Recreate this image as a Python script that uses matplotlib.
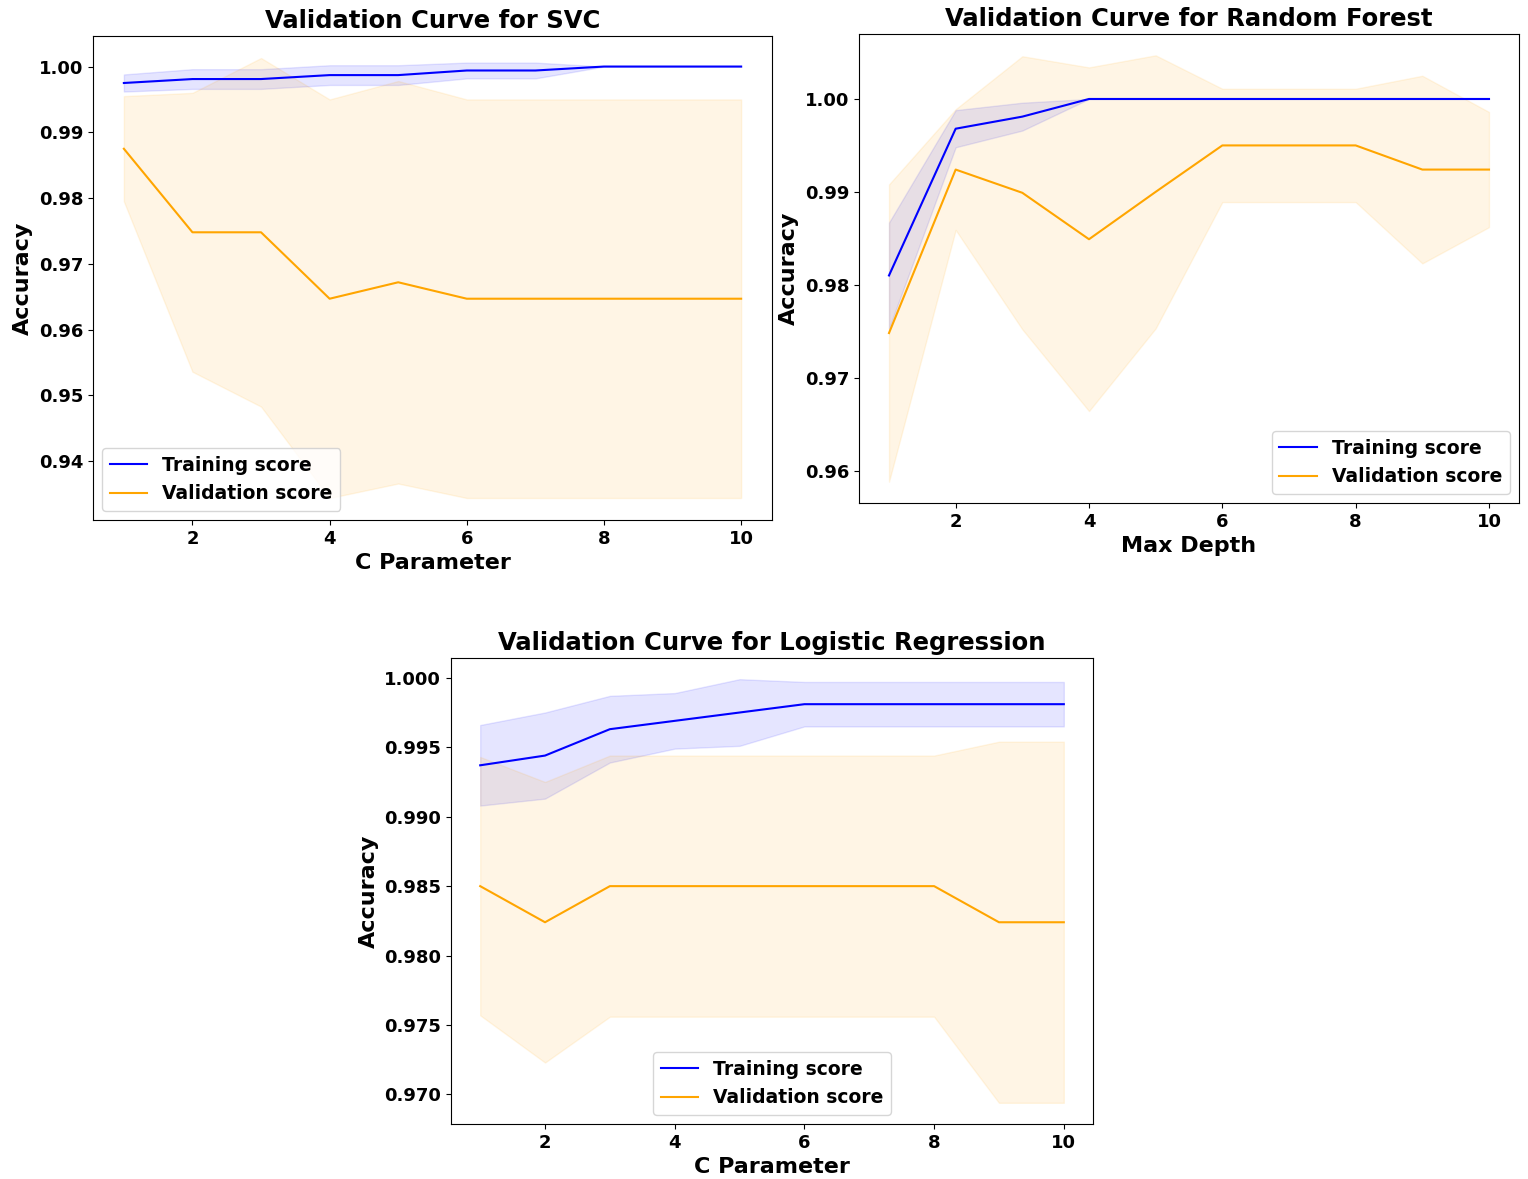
import matplotlib
matplotlib.use("Agg")
import matplotlib.pyplot as plt
import numpy as np

# parameter grid shared by all three curves
param_range = np.arange(1, 11)

# SVC: mean accuracy and std across folds
svc_train_mean = [0.9975, 0.9981, 0.9981, 0.9987, 0.9987, 0.9994, 0.9994, 1.0, 1.0, 1.0]
svc_train_std = [0.0013, 0.0015, 0.0015, 0.0015, 0.0015, 0.0012, 0.0012, 0.0, 0.0, 0.0]
svc_val_mean = [0.9875, 0.9748, 0.9748, 0.9647, 0.9672, 0.9647, 0.9647, 0.9647, 0.9647, 0.9647]
svc_val_std = [0.0080, 0.0212, 0.0265, 0.0303, 0.0306, 0.0303, 0.0303, 0.0303, 0.0303, 0.0303]

# Random forest (max depth)
rf_train_mean = [0.9810, 0.9968, 0.9981, 1.0, 1.0, 1.0, 1.0, 1.0, 1.0, 1.0]
rf_train_std = [0.0057, 0.0020, 0.0015, 0.0, 0.0, 0.0, 0.0, 0.0, 0.0, 0.0]
rf_val_mean = [0.9748, 0.9924, 0.9899, 0.9849, 0.9900, 0.9950, 0.9950, 0.9950, 0.9924, 0.9924]
rf_val_std = [0.0160, 0.0065, 0.0147, 0.0185, 0.0147, 0.0061, 0.0061, 0.0061, 0.0101, 0.0062]

# Logistic regression
lr_train_mean = [0.9937, 0.9944, 0.9963, 0.9969, 0.9975, 0.9981, 0.9981, 0.9981, 0.9981, 0.9981]
lr_train_std = [0.0029, 0.0031, 0.0024, 0.0020, 0.0024, 0.0016, 0.0016, 0.0016, 0.0016, 0.0016]
lr_val_mean = [0.9850, 0.9824, 0.9850, 0.9850, 0.9850, 0.9850, 0.9850, 0.9850, 0.9824, 0.9824]
lr_val_std = [0.0093, 0.0101, 0.0094, 0.0094, 0.0094, 0.0094, 0.0094, 0.0094, 0.0130, 0.0130]

plt.rcParams["font.family"] = ["DejaVu Sans"]
plt.rcParams["font.weight"] = "bold"
plt.rcParams["axes.labelweight"] = "bold"
plt.rcParams["axes.titleweight"] = "bold"

fig = plt.figure(figsize=(15.28, 11.79), dpi=100)
W, H = 1528, 1179


def px_axes(left, right, top, bottom):
    return fig.add_axes([left / W, 1 - bottom / H, (right - left) / W, (bottom - top) / H])


def curve(ax, title, xlabel, tm, ts, vm, vs, loc):
    tm, ts, vm, vs = map(np.asarray, (tm, ts, vm, vs))
    ax.plot(param_range, tm, color="blue", lw=1.5, label="Training score")
    ax.fill_between(param_range, tm - ts, tm + ts, color="blue", alpha=0.1)
    ax.plot(param_range, vm, color="orange", lw=1.5, label="Validation score")
    ax.fill_between(param_range, vm - vs, vm + vs, color="orange", alpha=0.1)
    ax.set_title(title, fontsize=17.5)
    ax.set_xlabel(xlabel, fontsize=16)
    ax.set_ylabel("Accuracy", fontsize=16)
    ax.tick_params(labelsize=13)
    for t in ax.get_xticklabels() + ax.get_yticklabels():
        t.set_fontweight("bold")
    ax.legend(loc=loc, fontsize=13.5)


ax1 = px_axes(93, 772, 36, 520)
curve(ax1, "Validation Curve for SVC", "C Parameter",
      svc_train_mean, svc_train_std, svc_val_mean, svc_val_std, "lower left")

ax2 = px_axes(859, 1519, 34, 503)
curve(ax2, "Validation Curve for Random Forest", "Max Depth",
      rf_train_mean, rf_train_std, rf_val_mean, rf_val_std, "lower right")

ax3 = px_axes(451, 1093, 658, 1124)
curve(ax3, "Validation Curve for Logistic Regression", "C Parameter",
      lr_train_mean, lr_train_std, lr_val_mean, lr_val_std, "lower center")

fig.savefig("out.png", dpi=100)
